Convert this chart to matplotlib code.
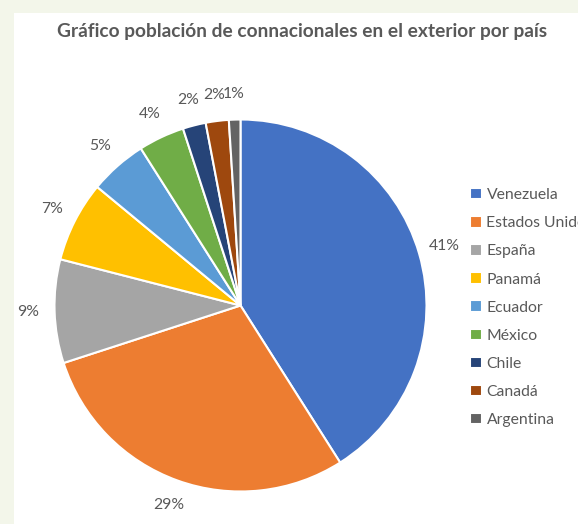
import matplotlib
matplotlib.use("Agg")
import matplotlib.pyplot as plt
from matplotlib.patches import Rectangle

countries = ["Venezuela", "Estados Unidos", "España", "Panamá", "Ecuador",
             "México", "Chile", "Canadá", "Argentina"]
shares = [41, 29, 9, 7, 5, 4, 2, 2, 1]
colors = ["#4472C4", "#ED7D31", "#A5A5A5", "#FFC000", "#5B9BD5",
          "#70AD47", "#264478", "#9E480E", "#636363"]
title = "Gráfico población de connacionales en el exterior por país"

W, H = 578, 524
fig = plt.figure(figsize=(W / 100, H / 100), dpi=100)
fig.patch.set_facecolor("#F3F6EA")
fig.patches.append(Rectangle((14 / W, 0), 1, (H - 13) / H, transform=fig.transFigure,
                             facecolor="white", edgecolor="none", zorder=-10))

txt = "#595959"
font = "Lato"

cx, cy, r = 240.5, 305.5, 186
L = 2.5 * r
ax = fig.add_axes([(cx - L / 2) / W, (H - cy - L / 2) / H, L / W, L / H])
ax.patch.set_alpha(0)
wedges, texts, autotexts = ax.pie(
    shares, colors=colors, startangle=90, counterclock=False,
    autopct="%1.0f%%", pctdistance=1.14,
    wedgeprops=dict(edgecolor="white", linewidth=1.5),
    textprops=dict(color=txt, fontsize=11.3, family=font))
ax.set_xlim(-1.25, 1.25)
ax.set_ylim(-1.25, 1.25)
ax.set_aspect("equal")
ax.axis("off")

fig.text(302 / W, 1 - 32 / H, title, ha="center", va="center",
         fontsize=13.8, fontweight="bold", color=txt, family=font)

leg = fig.legend(wedges, countries, loc="upper left",
                 bbox_to_anchor=(470 / W, 1 - 188 / H), frameon=False,
                 prop=dict(family=font, size=11.3), labelcolor=txt,
                 handlelength=0.75, handleheight=0.75, handletextpad=0.3,
                 labelspacing=0.885, borderaxespad=0, borderpad=0)

fig.savefig("out.png", dpi=100, facecolor=fig.get_facecolor())
